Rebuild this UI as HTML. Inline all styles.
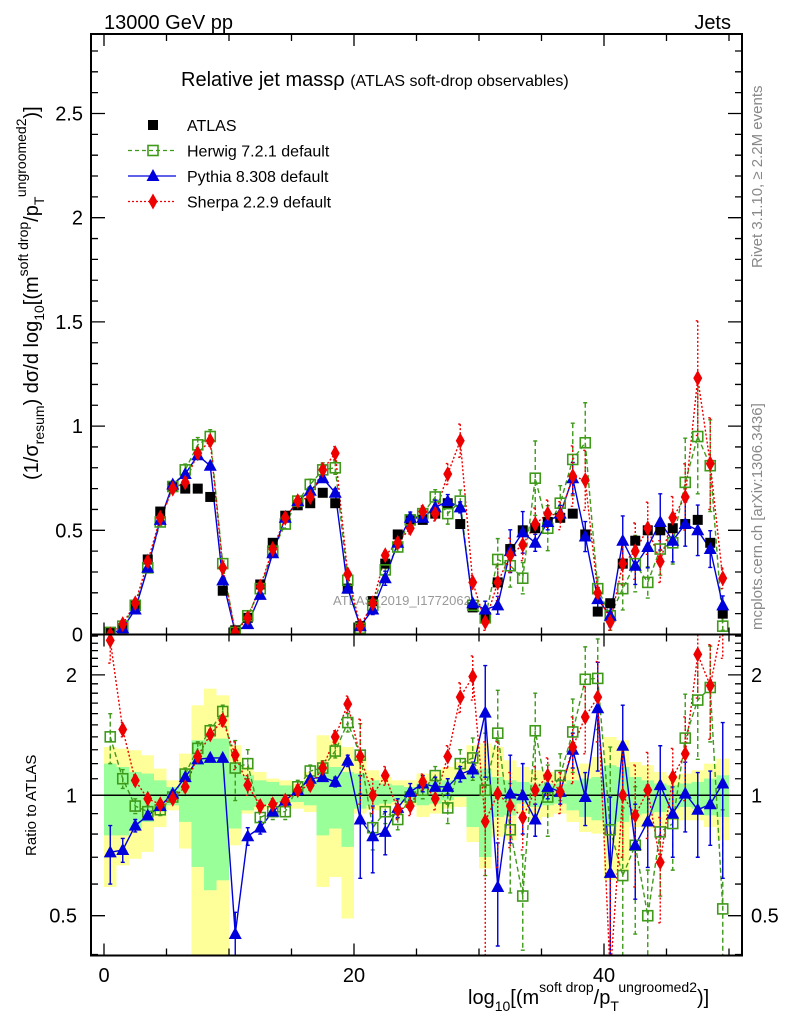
<!DOCTYPE html>
<html><head><meta charset="utf-8">
<style>
html,body{margin:0;padding:0;background:#fff;width:786px;height:1024px;overflow:hidden;}
svg{display:block;font-family:"Liberation Sans",sans-serif;overflow:hidden;}
</style></head>
<body>
<svg id="chart" width="786" height="1024" viewBox="0 0 786 1024" xmlns="http://www.w3.org/2000/svg">
<text x="104" y="29" font-size="20">13000 GeV pp</text>
<text x="731" y="29" font-size="20" text-anchor="end">Jets</text>
<text transform="translate(762,268) rotate(-90)" font-size="15" fill="#888">Rivet 3.1.10, ≥ 2.2M events</text>
<text transform="translate(762,630) rotate(-90)" font-size="15" fill="#888">mcplots.cern.ch [arXiv:1306.3436]</text>
<text x="181" y="86" font-size="20">Relative jet massρ <tspan font-size="16">(ATLAS soft-drop observables)</tspan></text>
<text x="333" y="605" font-size="13" fill="#999">ATLAS_2019_I1772062</text>
<text transform="translate(38,480) rotate(-90)" font-size="20">(1/σ<tspan font-size="14" dy="6">resum</tspan><tspan dy="-6">) dσ/d log</tspan><tspan font-size="14" dy="6">10</tspan><tspan dy="-6">[(m</tspan><tspan font-size="14" dy="-10">soft drop</tspan><tspan dy="10">/p</tspan><tspan font-size="14" dy="6">T</tspan><tspan font-size="14" dy="-18">ungroomed</tspan><tspan font-size="14" dy="0">2</tspan><tspan dy="12">)]</tspan></text>
<text transform="translate(36,856) rotate(-90)" font-size="15">Ratio to ATLAS</text>
<text x="468" y="1004" font-size="20">log<tspan font-size="14" dy="7">10</tspan><tspan dy="-7">[(m</tspan><tspan font-size="14" dy="-12">soft drop</tspan><tspan dy="12">/p</tspan><tspan font-size="14" dy="7">T</tspan><tspan font-size="14" dy="-19">ungroomed</tspan><tspan font-size="14" dy="0">2</tspan><tspan dy="12">)]</tspan></text>
<g id="legend"></g>
<g id="plot"></g>
</svg>
<script>
const atlas=[0.01,0.03,0.14,0.36,0.59,0.71,0.70,0.70,0.66,0.21,0.02,0.08,0.24,0.44,0.57,0.62,0.63,0.68,0.63,0.22,0.04,0.16,0.34,0.48,0.55,0.55,0.58,0.63,0.53,0.13,0.08,0.25,0.41,0.50,0.51,0.54,0.56,0.58,0.48,0.11,0.15,0.34,0.45,0.50,0.50,0.51,0.53,0.55,0.44,0.10];
const herwig=[0.01,0.04,0.14,0.32,0.54,0.71,0.79,0.91,0.95,0.34,0.01,0.09,0.22,0.40,0.53,0.64,0.72,0.79,0.80,0.26,0.03,0.14,0.31,0.42,0.55,0.58,0.66,0.58,0.64,0.14,0.08,0.36,0.33,0.27,0.75,0.51,0.63,0.84,0.92,0.22,0.09,0.22,0.34,0.25,0.41,0.44,0.73,0.95,0.81,0.04];
const pythia=[0.00,0.03,0.12,0.32,0.55,0.72,0.77,0.86,0.81,0.26,0.01,0.05,0.19,0.39,0.56,0.64,0.69,0.75,0.68,0.22,0.04,0.12,0.27,0.44,0.56,0.56,0.61,0.64,0.61,0.15,0.12,0.14,0.40,0.49,0.44,0.54,0.58,0.75,0.47,0.17,0.09,0.45,0.33,0.42,0.54,0.45,0.53,0.50,0.41,0.14];
const sherpa=[0.00,0.05,0.15,0.35,0.56,0.70,0.73,0.87,0.93,0.32,0.01,0.08,0.23,0.41,0.56,0.64,0.66,0.79,0.87,0.29,0.04,0.15,0.38,0.44,0.51,0.59,0.58,0.77,0.93,0.25,0.06,0.25,0.38,0.43,0.53,0.58,0.57,0.76,0.74,0.20,0.06,0.34,0.40,0.51,0.35,0.56,0.66,1.23,0.82,0.27];
const herwigRatio=[1.40,1.10,0.94,0.91,0.92,0.99,1.13,1.31,1.45,1.62,1.17,1.20,0.88,0.91,0.91,1.05,1.15,1.17,1.29,1.52,1.26,0.83,0.91,0.87,0.99,1.03,1.12,0.93,1.20,1.24,1.03,1.43,0.82,0.56,1.45,0.99,1.12,1.44,1.95,1.96,0.82,0.63,0.75,0.50,0.81,0.85,1.39,1.73,1.86,0.52];
const pythiaRatio=[0.72,0.73,0.84,0.89,0.94,1.01,1.11,1.23,1.24,1.24,0.45,0.79,0.83,0.91,0.97,1.03,1.10,1.11,1.08,1.22,0.87,0.79,0.81,0.93,1.02,1.07,1.05,1.05,1.13,1.16,1.61,0.59,1.01,1.00,0.87,1.05,1.02,1.30,0.99,1.65,0.64,1.33,0.75,0.86,1.06,0.90,1.01,0.92,0.95,1.07];
const sherpaRatio=[2.44,1.46,1.09,0.98,0.95,0.98,1.05,1.25,1.42,1.54,1.26,1.06,0.94,0.95,0.97,1.03,1.06,1.17,1.40,1.69,1.25,1.00,1.12,0.92,0.94,1.08,0.98,1.25,1.76,1.98,0.86,1.01,0.94,0.88,1.03,1.12,1.02,1.32,1.57,1.76,0.35,1.00,0.89,1.03,0.68,1.11,1.27,2.25,1.88,2.70];
const herwigErr=[0.2,0.06,0.04,0.03,0.03,0.03,0.04,0.05,0.05,0.06,0.2,0.1,0.05,0.04,0.04,0.04,0.04,0.05,0.05,0.08,0.25,0.1,0.06,0.05,0.05,0.05,0.06,0.08,0.1,0.15,0.4,0.4,0.25,0.15,0.35,0.2,0.15,0.3,0.4,0.5,0.5,0.3,0.3,0.15,0.25,0.2,0.4,0.5,0.5,0.4];
const pythiaErr=[0.12,0.05,0.03,0.02,0.02,0.02,0.02,0.02,0.02,0.02,0.06,0.04,0.03,0.02,0.02,0.02,0.02,0.02,0.03,0.04,0.25,0.15,0.1,0.05,0.05,0.05,0.06,0.05,0.05,0.05,0.5,0.17,0.25,0.2,0.08,0.07,0.07,0.13,0.15,0.5,0.35,0.35,0.2,0.2,0.27,0.2,0.2,0.22,0.2,0.45];
const sherpaErr=[0.3,0.06,0.03,0.02,0.02,0.02,0.03,0.03,0.04,0.05,0.1,0.06,0.03,0.03,0.03,0.03,0.03,0.04,0.05,0.08,0.3,0.1,0.06,0.05,0.05,0.05,0.06,0.08,0.15,0.25,0.5,0.35,0.2,0.15,0.15,0.12,0.12,0.25,0.3,0.4,0.3,0.3,0.3,0.25,0.2,0.2,0.3,0.5,0.5,0.5];
const yellowUp=[1.321,1.308,1.296,1.259,1.166,1.090,1.271,1.679,1.848,1.778,1.334,1.177,1.144,1.101,1.090,1.070,1.144,1.413,1.373,1.321,1.247,1.155,1.111,1.090,1.090,1.133,1.144,1.177,1.211,1.334,1.347,1.321,1.223,1.177,1.155,1.144,1.133,1.177,1.200,1.247,1.399,1.373,1.211,1.189,1.144,1.122,1.133,1.155,1.200,1.235];
const yellowDn=[0.590,0.668,0.694,0.722,0.833,0.917,0.736,0.40,0.40,0.40,0.750,0.900,0.917,0.926,0.935,0.926,0.908,0.590,0.625,0.492,0.900,0.917,0.926,0.944,0.944,0.883,0.900,0.926,0.935,0.764,0.656,0.787,0.772,0.900,0.866,0.883,0.900,0.858,0.810,0.802,0.613,0.649,0.833,0.826,0.833,0.866,0.866,0.866,0.833,0.772];
const greenUp=[1.200,1.177,1.144,1.133,1.090,1.049,1.155,1.373,1.386,1.386,1.200,1.122,1.090,1.080,1.059,1.039,1.090,1.189,1.177,1.144,1.133,1.090,1.070,1.059,1.049,1.070,1.080,1.090,1.111,1.155,1.166,1.111,1.090,1.080,1.070,1.070,1.070,1.090,1.101,1.111,1.189,1.177,1.111,1.090,1.070,1.059,1.070,1.080,1.101,1.122];
const greenDn=[0.794,0.794,0.818,0.858,0.908,0.944,0.858,0.662,0.579,0.613,0.826,0.917,0.935,0.953,0.962,0.962,0.944,0.794,0.826,0.743,0.926,0.944,0.953,0.962,0.962,0.944,0.953,0.972,0.990,0.833,0.701,0.883,0.891,0.953,0.935,0.944,0.953,0.917,0.883,0.866,0.833,0.858,0.891,0.900,0.908,0.926,0.935,0.926,0.891,0.883];
const mainTicks=["0","0.5","1","1.5","2","2.5"];
const xTicks=["0","20","40"];
const ratioTicks=["0.5","1","2"];

const NS="http://www.w3.org/2000/svg";
const L=91,R=742,T=34,MB=634.5,RB=955.5;
const x0=104,xs=12.5;
const X=v=>x0+v*xs;
const Ym=v=>MB-v*208.4;
const Yr=r=>795.3-400*Math.log10(r);
const clampY=(y,a,b)=>Math.min(Math.max(y,a),b);
const plot=document.getElementById('plot');
function mk(tag,attrs,parent){const e=document.createElementNS(NS,tag);for(const k in attrs)e.setAttribute(k,attrs[k]);(parent||plot).appendChild(e);return e;}

const defs=mk('defs',{});
const c1=mk('clipPath',{id:'cm'},defs);mk('rect',{x:L,y:T,width:R-L,height:MB-T},c1);
const c2=mk('clipPath',{id:'cr'},defs);mk('rect',{x:L,y:MB,width:R-L,height:RB-MB},c2);
const gMain=mk('g',{'clip-path':'url(#cm)'});


const gRat=mk('g',{'clip-path':'url(#cr)'});



for(let i=0;i<atlas.length;i++){
  const a=X(i),b=X(i+1);
  const yt=clampY(Yr(yellowUp[i]),MB,RB), yb=clampY(Yr(yellowDn[i]),MB,RB);
  const y1=mk('rect',{x:a,width:b-a,y:yt,height:yb-yt,fill:'#ffff99'},gRat);
  
  
  const gt=clampY(Yr(greenUp[i]),MB,RB), gb=clampY(Yr(greenDn[i]),MB,RB);
  const g1=mk('rect',{x:a,width:b-a,y:gt,height:gb-gt,fill:'#99ff99'},gRat);
  
  
}
mk('line',{x1:L,x2:R,y1:Yr(1),y2:Yr(1),stroke:'#000','stroke-width':1.5},gRat);

function marker(g,type,cx,cy,color,name){
  let e;
  if(type==='sq') e=mk('rect',{x:cx-5,y:cy-5,width:10,height:10,fill:'#000'},g);
  else if(type==='osq') e=mk('rect',{x:cx-5,y:cy-5,width:10,height:10,fill:'none',stroke:color,'stroke-width':1.6},g);
  else if(type==='tri') e=mk('path',{d:`M${cx},${cy-7}L${cx+6.5},${cy+5}L${cx-6.5},${cy+5}Z`,fill:color},g);
  else e=mk('path',{d:`M${cx},${cy-8}L${cx+4.5},${cy}L${cx},${cy+8}L${cx-4.5},${cy}Z`,fill:color},g);
  
  
}
const series=[
 {name:'herwig',main:herwig,ratio:herwigRatio,err:herwigErr,color:'#3f9a1a',dash:'5,3',type:'osq'},
 {name:'pythia',main:pythia,ratio:pythiaRatio,err:pythiaErr,color:'#0000dd',dash:'',type:'tri'},
 {name:'sherpa',main:sherpa,ratio:sherpaRatio,err:sherpaErr,color:'#ee0000',dash:'2,2',type:'dia'}
];
for(const s of series){
  for(const [g,vals,Y,isMain,top,bot] of [[gMain,s.main,Ym,true,T,MB],[gRat,s.ratio,Yr,false,MB,RB]]){
    let d='';
    vals.forEach((v,i)=>{d+=(i?'L':'M')+X(i+0.5)+','+clampY(Y(v),top-20,bot+20);});
    const p=mk('path',{d,fill:'none',stroke:s.color,'stroke-width':1.4,'stroke-dasharray':s.dash},g);
    
    
    vals.forEach((v,i)=>{
      const e=isMain?s.err[i]*atlas[i]:s.err[i];
      const lo=Math.max(v-e,0.02);
      const y1=clampY(Y(v+e),top,bot),y2=clampY(Y(lo),top,bot);
      if(Math.abs(y2-y1)>4){
        const eb=mk('path',{d:`M${X(i+0.5)},${y1}V${y2}M${X(i+0.5)-2},${y1}h4M${X(i+0.5)-2},${y2}h4`,stroke:s.color,'stroke-width':1.4,'stroke-dasharray':s.dash,fill:'none'},g);
        
        
      }
    });
  }
}
atlas.forEach((v,i)=>marker(gMain,'sq',X(i+0.5),Ym(v),'#000','atlas-point'));
for(const s of series){
  s.main.forEach((v,i)=>marker(gMain,s.type,X(i+0.5),Ym(v),s.color,s.name+'-point'));
  s.ratio.forEach((v,i)=>marker(gRat,s.type,X(i+0.5),clampY(Yr(v),MB-10,RB+10),s.color,s.name+'-ratio-point'));
}

for(const [y1,y2,n] of [[T,MB,'main-frame'],[MB,RB,'ratio-frame']]){
  const f=mk('rect',{x:L,y:y1,width:R-L,height:y2-y1,fill:'none',stroke:'#000','stroke-width':2});
  
  
}
for(let v=0;v<=50;v+=5){
  const big=v%20===0, len=big?12:7;
  const xx=X(v);
  mk('path',{d:`M${xx},${T}v${len}M${xx},${MB}v${-len}M${xx},${MB}v${len}M${xx},${RB}v${-len}`,stroke:'#000','stroke-width':1.3});
}
xTicks.forEach(t=>{const e=mk('text',{x:X(+t),y:982,'font-size':20,'text-anchor':'middle'});e.textContent=t;
 });
for(let k=0;k<=28;k++){
  const v=k/10, big=k%5===0, len=big?14:7, yy=Ym(v);
  mk('path',{d:`M${L},${yy}h${len}M${R},${yy}h${-len}`,stroke:'#000','stroke-width':1.3});
}
mainTicks.forEach(t=>{const e=mk('text',{x:83,y:Ym(+t)+7,'font-size':20,'text-anchor':'end'});e.textContent=t;
 });
[0.4,0.5,0.6,0.7,0.8,0.9,1,1.1,1.2,1.3,1.4,1.5,1.6,1.7,1.8,1.9,2,2.1,2.2,2.3,2.4,2.5].forEach(v=>{
  const big=(v===0.5||v===1||v===2), len=big?14:7, yy=Yr(v);
  mk('path',{d:`M${L},${yy}h${len}M${R},${yy}h${-len}`,stroke:'#000','stroke-width':1.3});
});
ratioTicks.forEach(t=>{
  const e=mk('text',{x:77,y:Yr(+t)+7,'font-size':20,'text-anchor':'end'});e.textContent=t;
  
  const f=mk('text',{x:751,y:Yr(+t)+7,'font-size':20});f.textContent=t;
  
});
const lg=document.getElementById('legend');
const entries=[['ATLAS','#000','','sq'],['Herwig 7.2.1 default','#3f9a1a','4,3','osq'],['Pythia 8.308 default','#0000dd','','tri'],['Sherpa 2.2.9 default','#ee0000','2,2','dia']];
entries.forEach((en,k)=>{
  const yy=125+k*25.5;
  const g=mk('g',{},lg);
  
  
  if(k>0) mk('line',{x1:128,x2:176,y1:yy,y2:yy,stroke:en[1],'stroke-width':1.3,'stroke-dasharray':en[2]},g);
  marker(g,en[3],153,yy,en[1],'legend-marker');
  const t=mk('text',{x:187,y:yy+6,'font-size':16},g);t.textContent=en[0];
});
</script>
</body></html>
